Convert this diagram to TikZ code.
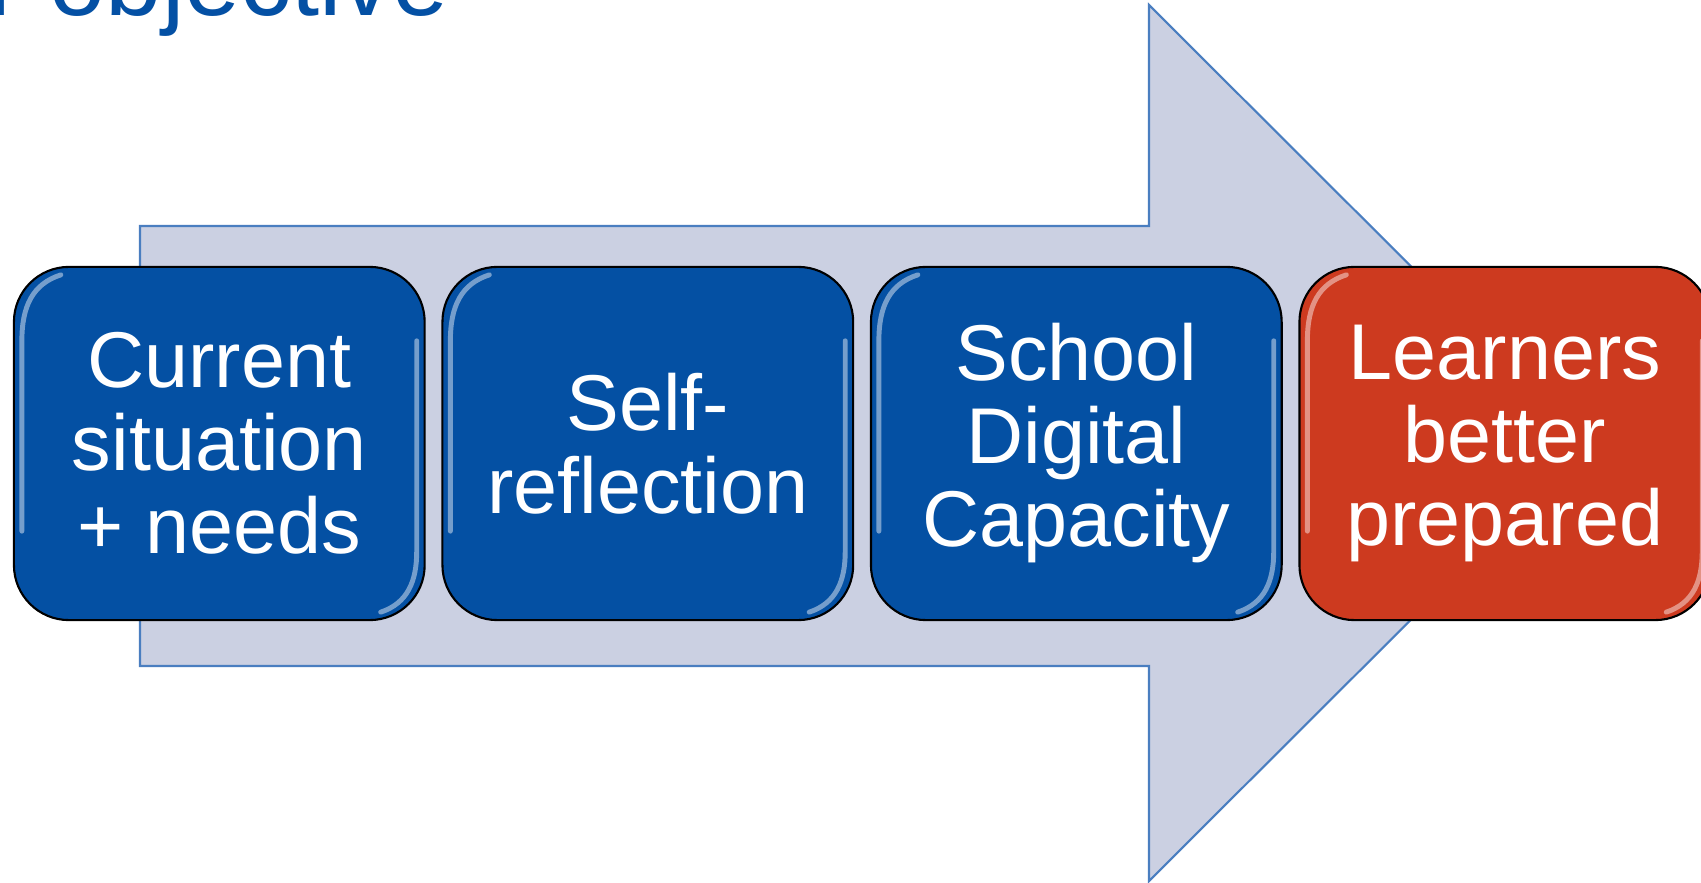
\documentclass[tikz,border=0pt]{standalone}
\usepackage{fontspec}
\setmainfont{Liberation Sans}
\usetikzlibrary{calc}
\definecolor{boxblue}{HTML}{0450A3}
\definecolor{boxred}{HTML}{CD3A1F}
\definecolor{arrowfill}{HTML}{CBD0E2}
\definecolor{arrowline}{HTML}{4A7EC0}
\definecolor{titleblue}{HTML}{0450A4}
\begin{document}
\begin{tikzpicture}[x=0.01cm,y=-0.01cm,
  stepbox/.style={draw=black, line width=0.6pt, rounded corners=0.55cm,
    minimum width=4.105cm, minimum height=3.53cm, text=white, align=center,
    font=\fontsize{22.5}{23.6}\selectfont, inner sep=0pt},
  bluebox/.style={stepbox, fill=boxblue},
  redbox/.style={stepbox, fill=boxred},
  hl/.style={draw=white, opacity=0.45, line width=1.4pt, line cap=round},
  bigarrow/.style={fill=arrowfill, draw=arrowline, line width=0.6pt, line join=miter},
  titletext/.style={text=titleblue, font=\fontsize{28.7}{32}\selectfont, inner sep=0pt, anchor=base east}]
\useasboundingbox (0,0) rectangle (1701,883);
\clip (0,0) rectangle (1701,883);
\fill[white] (0,0) rectangle (1701,883);
% title
\node[titletext] (title) at (449,16) {Our objective};
% big arrow
\draw[bigarrow] (140,226) -- (1149,226) -- (1149,5) -- (1588,443) -- (1149,881) -- (1149,666) -- (140,666) -- cycle;
% boxes
\node[bluebox] (b1) at (219.3,443.5) {Current\\situation\\+ needs};
\node[bluebox] (b2) at (647.8,443.5) {Self-\\reflection};
\node[bluebox] (b3) at (1076.3,443.5) {School\\Digital\\Capacity};
\node[redbox]  (b4) at (1504.8,443.5) {Learners\\better\\prepared};
% glossy highlights
\foreach \b in {b1,b2,b3,b4}{
  \draw[hl] ($(\b.north west)+(48,9)$) .. controls ($(\b.north west)+(20,18)$) and ($(\b.north west)+(9,40)$) .. ($(\b.north west)+(9,75)$) -- ($(\b.south west)+(9,-90)$);
  \draw[hl] ($(\b.north east)+(-9,75)$) -- ($(\b.south east)+(-9,-70)$) .. controls ($(\b.south east)+(-9,-40)$) and ($(\b.south east)+(-18,-18)$) .. ($(\b.south east)+(-45,-9)$);
}
\end{tikzpicture}
\end{document}
